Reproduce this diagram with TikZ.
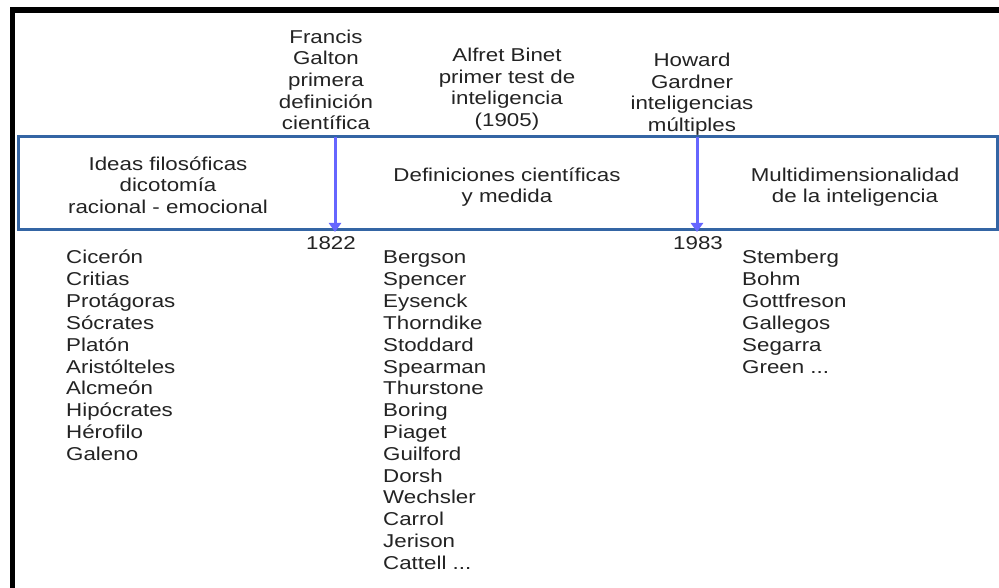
\documentclass[tikz,border=0pt]{standalone}
\usepackage{fontspec}
\setmainfont{Liberation Sans}[FakeStretch=1.2]
\usetikzlibrary{arrows.meta}
\definecolor{boxblue}{RGB}{52,101,164}
\definecolor{arrowblue}{RGB}{102,102,255}
\definecolor{txt}{RGB}{35,35,35}
\newcommand{\mydots}{...}
\tikzset{
  lbl/.style={inner sep=0pt, text=txt, font=\fontsize{18.6}{21.6}\selectfont},
  ctext/.style={lbl, align=center, anchor=base},
  item/.style={lbl, anchor=base west},
  era/.style={draw=boxblue, line width=3pt},
  milestone/.style={draw=arrowblue, line width=3pt, -{Triangle[width=12pt,length=9pt]}},
  frame/.style={fill=black, draw=none}
}
\begin{document}
\begin{tikzpicture}[x=1pt,y=-1pt]
\useasboundingbox (0,0) rectangle (999,588);
\fill[white] (0,0) rectangle (999,588);
% black frame
\fill[frame] (10,7) rectangle (999,13);
\fill[frame] (10,7) rectangle (15,588);
% era box
\draw[era] (18,137) rectangle (997,229.5);
% milestone coordinates
\coordinate (g1) at (335,137);
\coordinate (g2) at (335,232);
\coordinate (h1) at (697,137);
\coordinate (h2) at (697,232);
\draw[milestone] (g1) -- (g2);
\draw[milestone] (h1) -- (h2);
% top labels (anchor = baseline of last line)
\node[ctext] (galton) at (326,129.7) {Francis\\Galton\\primera\\definición\\científica};
\node[ctext] (binet) at (507,126.5) {Alfret Binet\\primer test de\\inteligencia\\(1905)};
\node[ctext] (gardner) at (692,131.5) {Howard\\Gardner\\inteligencias\\múltiples};
% era labels
\node[ctext] (era1) at (168,213.3) {Ideas filosóficas\\dicotomía\\racional - emocional};
\node[ctext] (era2) at (507,203) {Definiciones científicas\\y medida};
\node[ctext] (era3) at (855,203) {Multidimensionalidad\\de la inteligencia};
% years
\node[ctext] (y1822) at (331,250) {1822};
\node[ctext] (y1983) at (698,250) {1983};
% lists
\foreach \t [count=\i from 0] in {Cicerón,Critias,Protágoras,Sócrates,Platón,Aristólteles,Alcmeón,Hipócrates,Hérofilo,Galeno}
  \node[item] (a\i) at (66,264+21.8*\i) {\t};
\foreach \t [count=\i from 0] in {Bergson,Spencer,Eysenck,Thorndike,Stoddard,Spearman,Thurstone,Boring,Piaget,Guilford,Dorsh,Wechsler,Carrol,Jerison,Cattell \mydots}
  \node[item] (b\i) at (383,264+21.8*\i) {\t};
\foreach \t [count=\i from 0] in {Stemberg,Bohm,Gottfreson,Gallegos,Segarra,Green \mydots}
  \node[item] (c\i) at (742,264+21.8*\i) {\t};
\end{tikzpicture}
\end{document}
